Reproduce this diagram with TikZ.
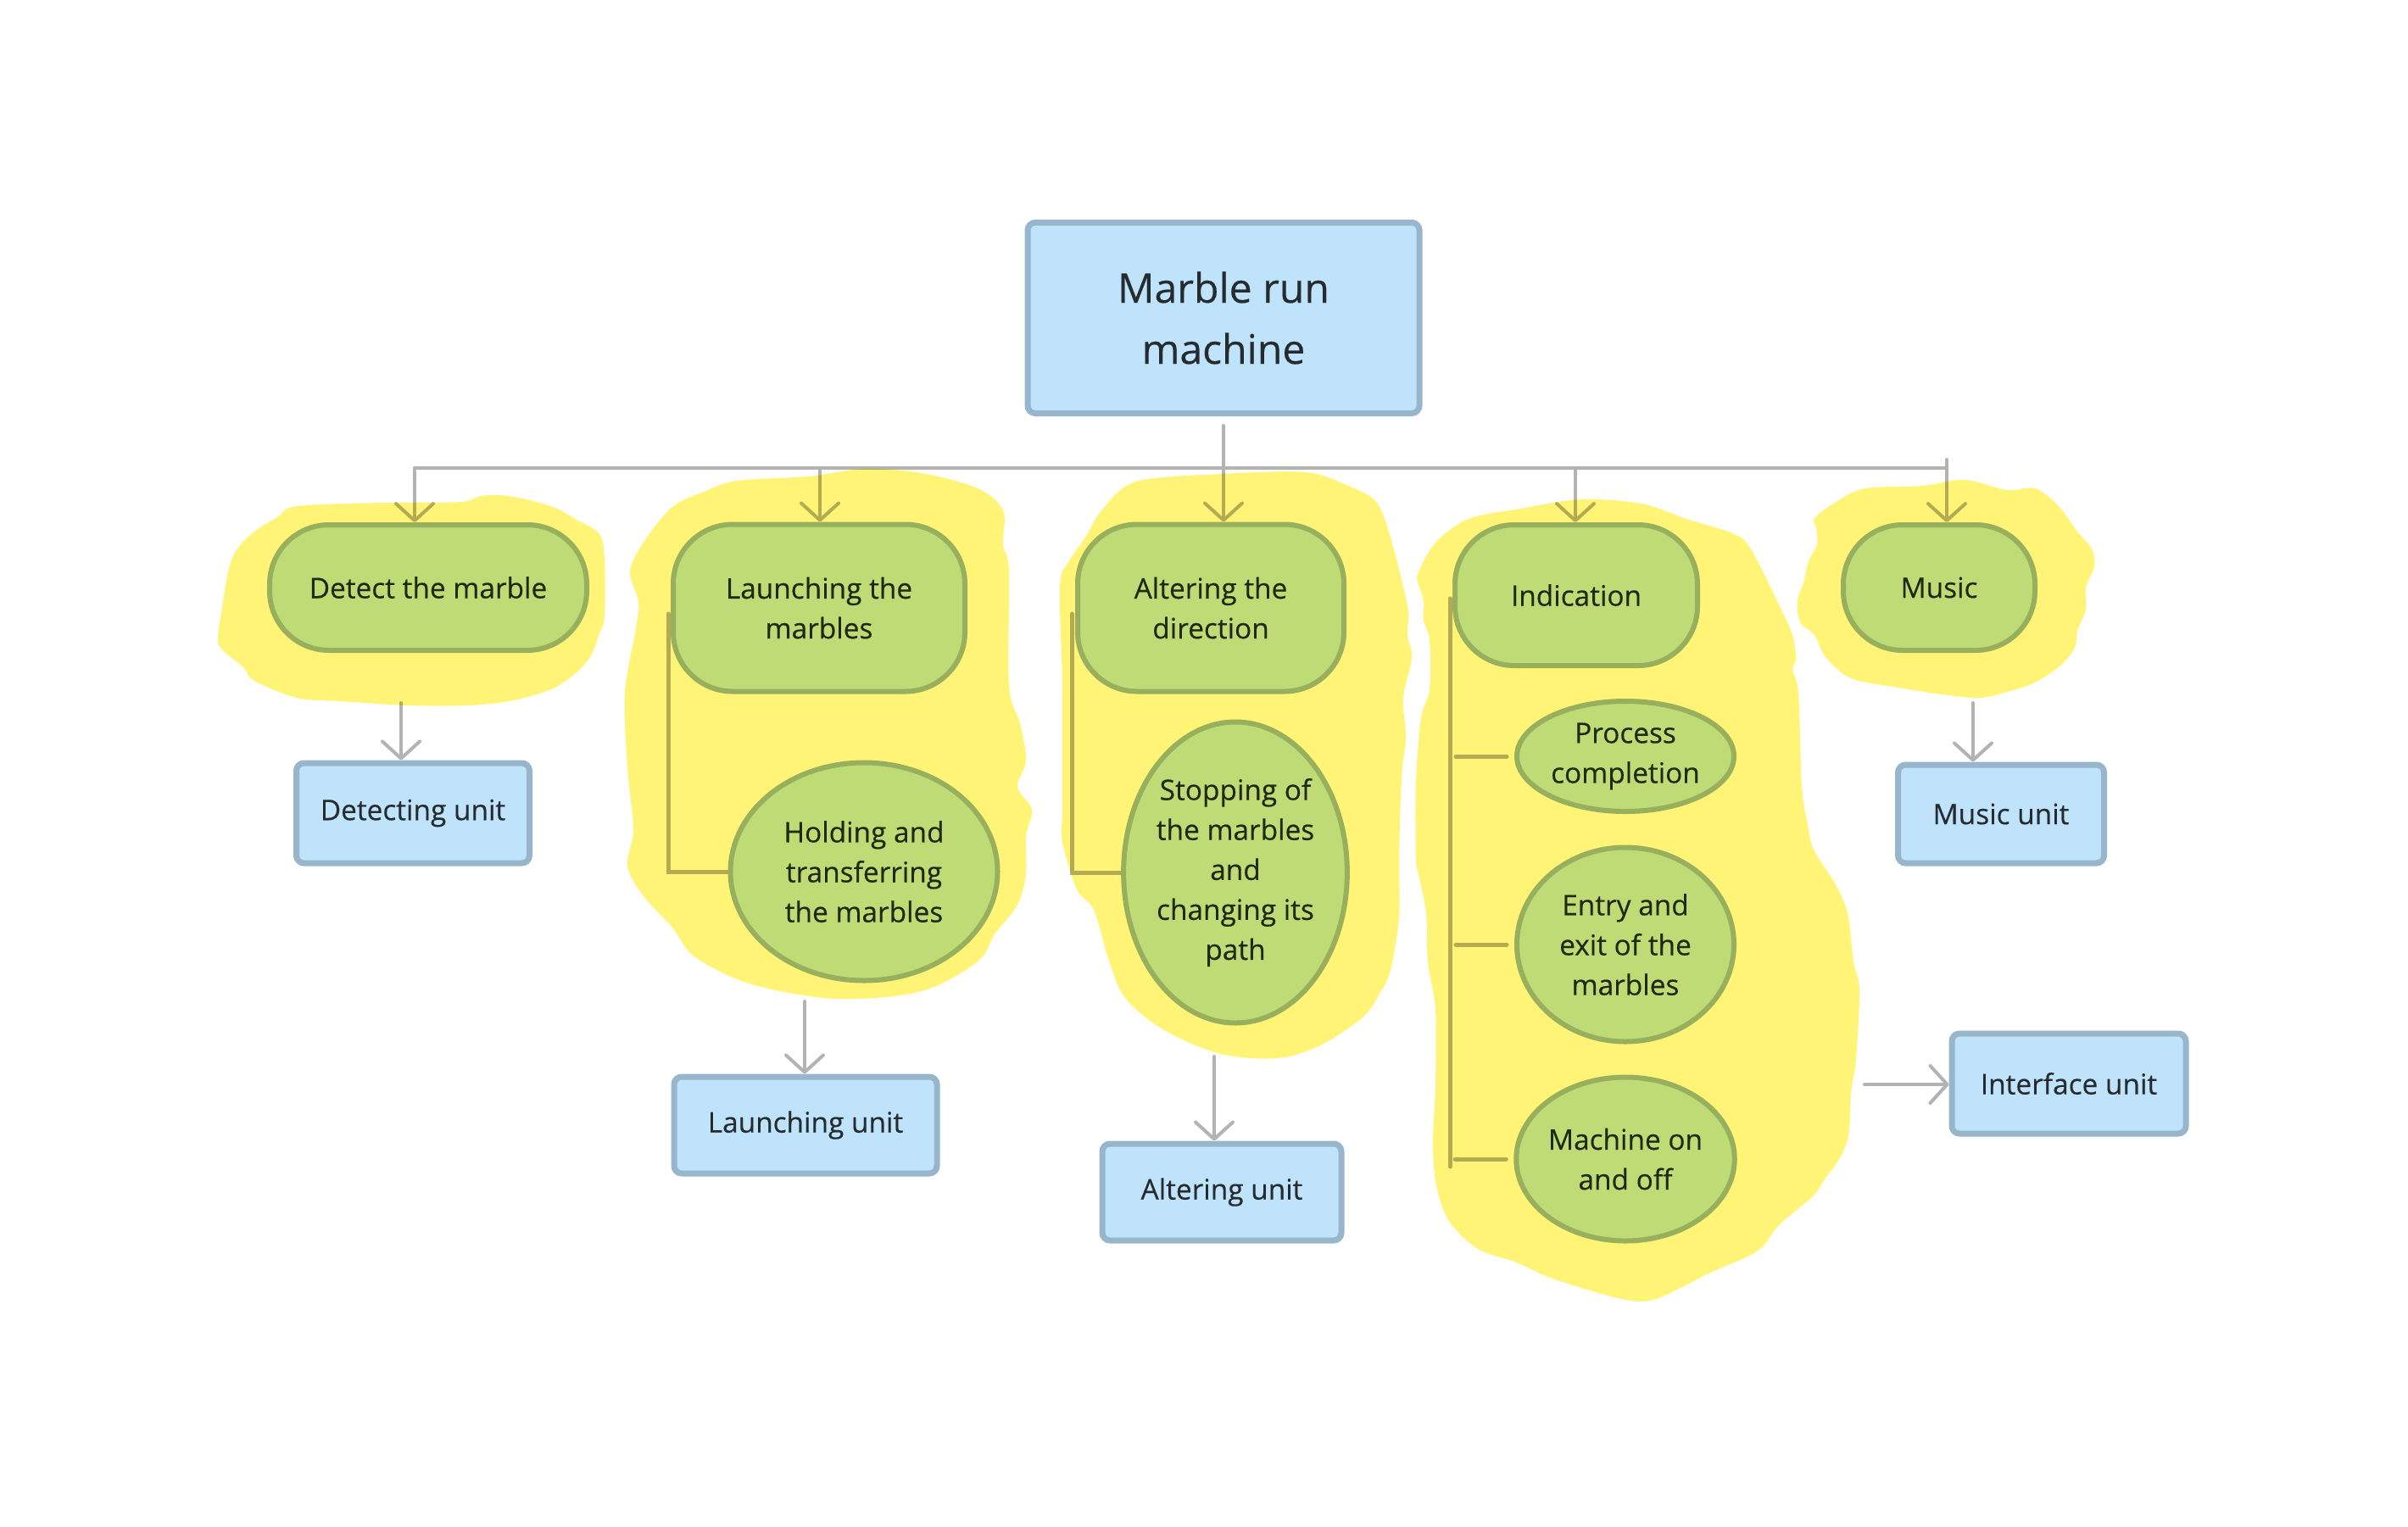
\documentclass[tikz,border=0pt]{standalone}
\usepackage{fontspec}
\setmainfont{Open Sans}[FakeBold=0.35]
\usetikzlibrary{shapes.geometric}
\usetikzlibrary{arrows.meta}
\definecolor{mrbblue}{HTML}{BEE3FB}
\definecolor{mrbblueln}{HTML}{97B5CB}
\definecolor{mrbgreen}{HTML}{BFDB75}
\definecolor{mrbgreenln}{HTML}{98AF5D}
\definecolor{mrbyellow}{HTML}{FFF475}
\definecolor{mrbgrey}{HTML}{B3B3B3}
\definecolor{mrbtext}{HTML}{262B2F}
\definecolor{mrbgtext}{HTML}{1F2A12}
\newcommand{\mrbfnt}{\fontsize{9.5}{13.4}\selectfont}
\newcommand{\mrbfntl}{\fontsize{13.7}{20.5}\selectfont}
\newcommand{\busy}{-5.52}
\newcommand{\clxa}{4.89}
\newcommand{\clxb}{9.67}
\newcommand{\clxc}{14.42}
\newcommand{\clxd}{18.58}
\newcommand{\clxe}{22.96}
\pgfdeclarelayer{lines}
\pgfdeclarelayer{hilite}
\pgfsetlayers{lines,hilite,main}

\begin{document}
\begin{tikzpicture}[
    unitbox/.style={draw=mrbblueln, fill=mrbblue, line width=0.07cm,
      rounded corners=0.09cm, inner sep=0pt, align=center,
      text=mrbtext, font=\mrbfnt},
    funcbox/.style={draw=mrbgreenln, fill=mrbgreen, line width=0.06cm,
      rounded corners=0.7cm, inner sep=0pt, align=center,
      text=mrbgtext, font=\mrbfnt},
    subell/.style={ellipse, draw=mrbgreenln, fill=mrbgreen,
      line width=0.06cm, inner sep=0pt, align=center,
      text=mrbgtext, font=\mrbfnt},
    conn/.style={draw=mrbgrey, line width=0.04cm, line cap=round},
    arr/.style={conn, -{Straight Barb[length=0.2cm,width=0.44cm,round]}},
    brk/.style={draw=mrbgrey, line width=0.05cm, line cap=round},
    hilite/.style={fill=mrbyellow}]
    \useasboundingbox (0,0) rectangle (28.40,-18.01);

    \node (root) at (14.43,-3.75) [unitbox, minimum width=4.62cm,
      minimum height=2.25cm, font=\mrbfntl] {Marble run\\machine};

    \node (detect) at (5.05,-6.93) [funcbox, minimum width=3.74cm,
      minimum height=1.48cm] {Detect the marble};
    \node (launch) at (9.66,-7.17) [funcbox, minimum width=3.44cm,
      minimum height=1.97cm] {Launching the\\marbles};
    \node (alter) at (14.28,-7.17) [funcbox, minimum width=3.14cm,
      minimum height=1.97cm] {Altering the\\direction};
    \node (indic) at (18.59,-7.02) [funcbox, minimum width=2.86cm,
      minimum height=1.66cm] {Indication};
    \node (music) at (22.87,-6.93) [funcbox, minimum width=2.26cm,
      minimum height=1.48cm] {Music};

    \node (hold) at (10.19,-10.28) [subell, minimum width=3.15cm,
      minimum height=2.57cm] {Holding and\\transferring\\the marbles};
    \node (stop) at (14.57,-10.29) [subell, minimum width=2.60cm,
      minimum height=3.55cm]
      {Stopping of\\the marbles\\and\\changing its\\path};
    \node (proc) at (19.17,-8.92) [subell, minimum width=2.56cm,
      minimum height=1.30cm] {Process\\completion};
    \node (entry) at (19.17,-11.14) [subell, minimum width=2.56cm,
      minimum height=2.29cm] {Entry and\\exit of the\\marbles};
    \node (onoff) at (19.17,-13.67) [subell, minimum width=2.56cm,
      minimum height=1.93cm] {Machine on\\and off};

    \node (detu) at (4.87,-9.59) [unitbox, minimum width=2.75cm,
      minimum height=1.18cm] {Detecting unit};
    \node (launu) at (9.50,-13.27) [unitbox, minimum width=3.10cm,
      minimum height=1.14cm] {Launching unit};
    \node (altu) at (14.41,-14.06) [unitbox, minimum width=2.82cm,
      minimum height=1.14cm] {Altering unit};
    \node (musu) at (23.60,-9.60) [unitbox, minimum width=2.43cm,
      minimum height=1.16cm] {Music unit};
    \node (intu) at (24.40,-12.78) [unitbox, minimum width=2.76cm,
      minimum height=1.18cm] {Interface unit};

    \coordinate (bus-a) at (\clxa,\busy);
    \coordinate (bus-b) at (\clxb,\busy);
    \coordinate (bus-d) at (\clxd,\busy);
    \coordinate (bus-e) at (\clxe,\busy);
    \coordinate (detect-out) at (4.73,-8.29);
    \coordinate (launch-out) at (9.49,-11.81);
    \coordinate (alter-out) at (14.32,-12.46);
    \coordinate (music-out) at (23.27,-8.29);
    \coordinate (indic-out) at (21.99,-12.79);

    % connectors go under the highlighter
    \begin{pgfonlayer}{lines}
      \draw[conn] (bus-a) -- (bus-e);
      \draw[arr] ([yshift=-0.11cm]root.south) -- (root.south |- alter.north);
      \draw[arr] (bus-a) -- (bus-a |- detect.north);
      \draw[arr] (bus-b) -- (bus-b |- launch.north);
      \draw[arr] (bus-d) -- (bus-d |- indic.north);
      \draw[arr] ([yshift=0.1cm]bus-e) -- (bus-e |- music.north);

      \draw[arr] (detect-out) -- (detect-out |- detu.north);
      \draw[arr] (launch-out) -- (launch-out |- launu.north);
      \draw[arr] (alter-out) -- (alter-out |- altu.north);
      \draw[arr] (music-out) -- (music-out |- musu.north);
      \draw[arr] (indic-out) -- (indic-out -| intu.west);

      \draw[brk] ([xshift=-0.03cm,yshift=-0.07cm]launch.west) |- (hold.west);
      \draw[brk] ([xshift=-0.04cm,yshift=-0.07cm]alter.west) |- (stop.west);
      \draw[brk] ([xshift=-0.03cm,yshift=-0.04cm]indic.west) -- ++(0,-6.70);
      \draw[brk] ([xshift=-0.09cm]proc.west) -- ++(-0.60,0);
      \draw[brk] ([xshift=-0.09cm]entry.west) -- ++(-0.60,0);
      \draw[brk] ([xshift=-0.09cm]onoff.west) -- ++(-0.60,0);
    \end{pgfonlayer}

    % highlighter marks
    \begin{pgfonlayer}{hilite}
    \begin{scope}[blend mode=multiply]
      \fill[hilite] plot[smooth cycle, tension=0.55] coordinates {
        (3.50,-5.97) (4.50,-5.93) (5.43,-5.92) (5.67,-5.85) (6.00,-5.85)
        (6.50,-5.97) (6.80,-6.13) (7.07,-6.30) (7.13,-6.60) (7.13,-7.27)
        (7.07,-7.47) (6.97,-7.73) (6.80,-7.93) (6.50,-8.13) (6.00,-8.27)
        (5.50,-8.32) (4.83,-8.32) (4.00,-8.27) (3.50,-8.23) (3.00,-8.03)
        (2.87,-7.87) (2.63,-7.67) (2.57,-7.53) (2.63,-7.10) (2.70,-6.70)
        (2.80,-6.47) (3.00,-6.27) (3.27,-6.10)};
      \fill[hilite] plot[smooth cycle, tension=0.55] coordinates {
        (8.30,-5.80) (8.70,-5.67) (9.53,-5.62) (10.20,-5.53) (10.87,-5.58)
        (11.53,-5.76) (11.83,-6.02) (11.83,-6.43) (11.90,-6.74)
        (11.90,-8.08) (12.03,-8.53) (12.10,-8.97) (12.00,-9.28)
        (12.17,-9.55) (12.10,-9.86) (12.10,-10.31) (12.00,-10.67)
        (11.73,-11.02) (11.53,-11.34) (10.87,-11.69) (9.87,-11.78)
        (8.87,-11.61) (8.20,-11.29) (7.93,-10.94) (7.60,-10.58)
        (7.40,-10.22) (7.47,-9.78) (7.40,-9.06) (7.37,-8.17) (7.50,-7.41)
        (7.53,-7.10) (7.43,-6.74) (7.60,-6.38) (7.93,-5.98)};
      \fill[hilite] plot[smooth cycle, tension=0.55] coordinates {
        (13.40,-5.68) (14.40,-5.59) (15.40,-5.57) (15.90,-5.73)
        (16.23,-5.92) (16.40,-6.34) (16.60,-7.15) (16.60,-7.48)
        (16.65,-7.76) (16.55,-8.23) (16.58,-8.70) (16.53,-9.17)
        (16.50,-10.12) (16.50,-10.82) (16.40,-11.44) (16.27,-11.72)
        (16.07,-12.00) (15.57,-12.33) (15.07,-12.48) (14.40,-12.43)
        (13.73,-12.15) (13.27,-11.77) (13.07,-11.30) (12.90,-10.73)
        (12.70,-10.49) (12.53,-9.93) (12.53,-9.55) (12.53,-8.47)
        (12.53,-8.04) (12.50,-6.91) (12.60,-6.63) (12.80,-6.34)
        (13.00,-6.01)};
      \fill[hilite] plot[smooth cycle, tension=0.55] coordinates {
        (16.73,-6.75) (16.93,-6.40) (17.32,-6.12) (17.93,-6.00)
        (18.64,-5.89) (19.36,-5.94) (19.89,-6.12) (20.43,-6.29)
        (20.64,-6.46) (20.96,-7.09) (21.14,-7.49) (21.18,-7.78)
        (21.14,-7.90) (21.21,-8.18) (21.25,-9.27) (21.32,-9.73)
        (21.39,-10.02) (21.64,-10.42) (21.79,-10.77) (21.86,-11.34)
        (21.93,-11.68) (21.89,-12.49) (21.83,-12.89) (21.80,-13.40)
        (21.68,-13.69) (21.53,-13.89) (21.38,-14.11) (20.99,-14.44)
        (20.80,-14.69) (20.61,-14.82) (20.15,-15.02) (19.84,-15.18)
        (19.46,-15.34) (19.08,-15.31) (18.31,-15.08) (17.89,-14.89)
        (17.43,-14.73) (17.09,-14.40) (16.94,-13.98) (16.90,-13.47)
        (16.93,-12.78) (16.93,-11.91) (16.84,-11.34) (16.82,-10.77)
        (16.73,-10.31) (16.70,-10.13) (16.70,-9.22) (16.76,-8.47)
        (16.86,-8.13) (16.86,-7.55) (16.79,-7.32) (16.79,-7.09)
        (16.72,-6.86)};
      \fill[hilite] plot[smooth cycle, tension=0.55] coordinates {
        (21.40,-6.11) (21.67,-5.91) (22.00,-5.76) (22.67,-5.73)
        (23.17,-5.66) (23.67,-5.78) (24.00,-5.76) (24.27,-5.96)
        (24.50,-6.27) (24.67,-6.47) (24.70,-6.68) (24.60,-6.93)
        (24.60,-7.19) (24.50,-7.44) (24.47,-7.64) (24.30,-7.85)
        (24.00,-8.05) (23.67,-8.16) (23.33,-8.23) (22.83,-8.18)
        (22.33,-8.10) (21.83,-8.00) (21.53,-7.75) (21.40,-7.49)
        (21.23,-7.34) (21.20,-7.08) (21.27,-6.88) (21.33,-6.62)
        (21.43,-6.42) (21.42,-6.22)};
    \end{scope}
    \end{pgfonlayer}
  \end{tikzpicture}
\end{document}
